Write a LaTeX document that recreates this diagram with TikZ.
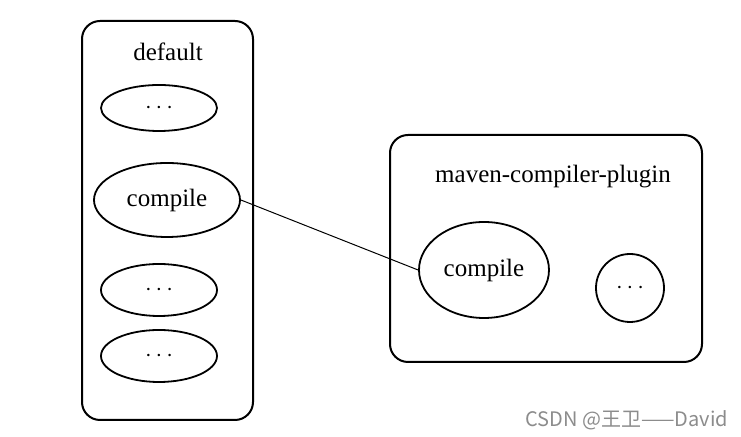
\documentclass[tikz,border=0pt]{standalone}
\usepackage{fontspec}
\setmainfont{Liberation Serif}
\newfontfamily\cjkfont{Noto Sans CJK SC}
\usetikzlibrary{shapes.geometric,positioning}

\begin{document}
\begin{tikzpicture}[x=0.5pt,y=-0.5pt,
  phasebox/.style={rectangle,rounded corners=9pt,draw,line width=1pt,inner sep=0pt},
  title/.style={font=\fontsize{12.5}{15}\selectfont},
  goal/.style={ellipse,draw,line width=0.9pt,inner sep=0pt,font=\fontsize{12.5}{15}\selectfont},
  link/.style={draw,line width=0.5pt}
]
  \useasboundingbox (0,0) rectangle (741,437);

  % lifecycle
  \draw[phasebox] (82,21) rectangle (253,420);
  \node[title] (deflabel) at (168,52) {default};
  \node[goal,minimum width=58pt,minimum height=23pt] (dots1) at (159,108) {$\cdots$};
  \node[goal,minimum width=73pt,minimum height=37pt] (lcompile) at (167,200) {compile};
  \node[goal,minimum width=58pt,minimum height=26pt] (dots2) at (159,290) {$\cdots$};
  \node[goal,minimum width=58pt,minimum height=26pt] (dots3) at (159,356) {$\cdots$};

  % plugin
  \draw[phasebox] (390,135) rectangle (702,362);
  \node[title] (pluglabel) at (553,177) {maven-compiler-plugin};
  \node[goal,minimum width=65pt,minimum height=48pt] (pcompile) at (484,270) {compile};
  \node[goal,minimum width=34pt,minimum height=34pt] (dots4) at (630,288) {$\cdots$};

  \draw[link] (lcompile.east) -- (pcompile.west);

  \node[text=black!45,font=\fontsize{10}{12}\cjkfont] (mark) at (627,420) {CSDN @王卫——David};
\end{tikzpicture}
\end{document}
